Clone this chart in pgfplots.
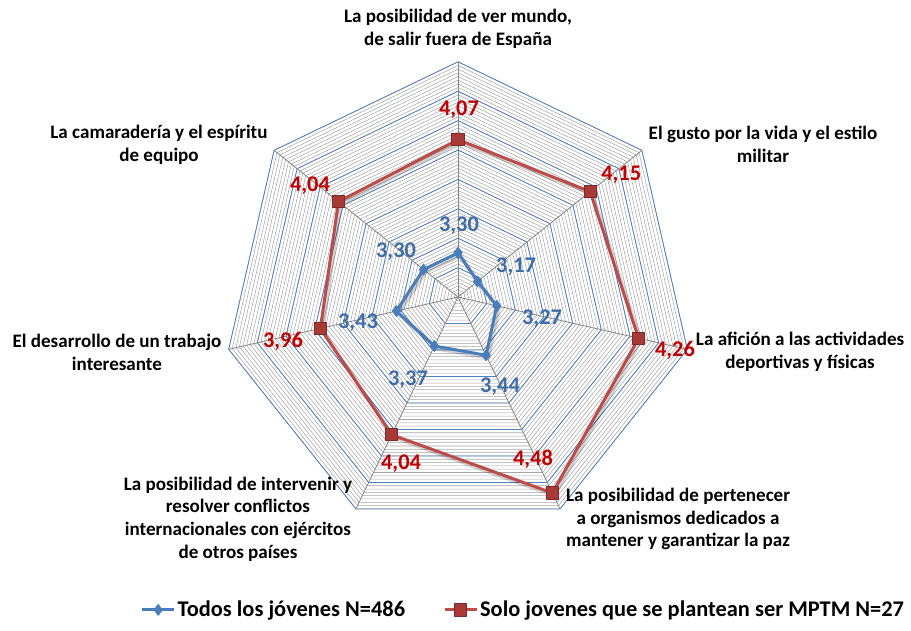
\documentclass[border=0pt]{standalone}
\usepackage{pgfplots}
\pgfplotsset{compat=1.18}
\usepackage{pgfplotstable}
\usepackage{fontspec}
\setmainfont{Carlito}
\definecolor{sblue}{HTML}{4A7EBB}
\definecolor{sred}{HTML}{BE4B48}
\definecolor{lblue}{HTML}{3E6DA8}
\definecolor{lred}{HTML}{C00000}
\definecolor{gridblue}{HTML}{4F81BD}
\definecolor{gridgray}{HTML}{A6A6A6}
\definecolor{spoke}{HTML}{868686}
\definecolor{redmark}{HTML}{A73A37}
\definecolor{redmarkd}{HTML}{7E2A28}
\newcommand\labfont{\fontsize{14.3}{17}\selectfont\bfseries}
\newcommand\valfont{\fontsize{16.8}{20}\selectfont\bfseries}
\newcommand{\hept}[2]{\draw[#2] (axis cs:0,{#1}) -- (axis cs:{(#1)*0.781831},{(#1)*0.623490}) -- (axis cs:{(#1)*0.974928},{-(#1)*0.222521}) -- (axis cs:{(#1)*0.433884},{-(#1)*0.900969}) -- (axis cs:{-(#1)*0.433884},{-(#1)*0.900969}) -- (axis cs:{-(#1)*0.974928},{-(#1)*0.222521}) -- (axis cs:{-(#1)*0.781831},{(#1)*0.623490}) -- cycle;}
\pgfplotstableread{
k all red bl rl bdx bdy rdx rdy
0 3.30 4.07 3,30 4,07 0.75 20.2 0.75 22.3
1 3.17 4.15 3,17 4,15 28.9 10.8 23.3 12.5
2 3.27 4.26 3,27 4,26 34.0 -9.9 27.3 -8.9
3 3.44 4.48 3,44 4,48 10.4 -23.8 -14.6 25.5
4 3.37 4.04 3,37 4,04 -19.8 -25.5 7.0 -21.8
5 3.43 3.96 3,43 3,96 -28.8 -8.9 -28.1 -9.5
6 3.30 4.04 3,30 4,04 -20.6 13.1 -21.4 11.8
7 3.30 4.07 {} {} 0 0 0 0
}\data
\pgfplotsset{
  bluestyle/.style={sblue, line width=2.25pt, line join=round, mark=diamond*, mark size=4.2pt,
    mark options={fill=sblue, draw=sblue, line width=0.5pt, solid}},
  redstyle/.style={sred, line width=2.25pt, line join=round, mark=square*, mark size=4.6pt,
    mark options={fill=redmark, draw=redmarkd, line width=0.6pt, solid}},
  shadowstyle/.style={black, opacity=0.18, line width=3pt, line join=round, no markers, forget plot, xshift=1.5pt, yshift=-1.8pt},
}
\begin{document}
\begin{tikzpicture}
\begin{axis}[
  x=110.25pt, y=110.25pt,
  xmin=-3.1156, xmax=3.0816, ymin=-2.2653, ymax=2.0204,
  hide axis, clip=false,
  legend columns=2,
  legend style={at={(rel axis cs:0.5745,0.032)}, anchor=center, draw=none, fill=none,
    font=\valfont, inner sep=0pt, /tikz/every even column/.append style={column sep=27pt},
    nodes={inner sep=1.5pt}},
  legend image code/.code={\draw[#1, mark repeat=2, mark phase=2] plot coordinates {(0pt,0pt)(12pt,0pt)(24pt,0pt)};},
]
\path (rel axis cs:0,0) rectangle (rel axis cs:1,1);
\pgfplotsinvokeforeach{1,...,64}{\hept{0.025*#1}{gridgray, line width=0.4pt}}
\pgfplotsinvokeforeach{1,...,8}{\hept{0.2*#1}{gridblue, line width=0.6pt}}
\draw[spoke, line width=0.6pt] (axis cs:0,0) -- (axis cs:0,1.6);
\draw[spoke, line width=0.6pt] (axis cs:0,0) -- (axis cs:{1.6*0.781831},{1.6*0.623490});
\draw[spoke, line width=0.6pt] (axis cs:0,0) -- (axis cs:{1.6*0.974928},{-1.6*0.222521});
\draw[spoke, line width=0.6pt] (axis cs:0,0) -- (axis cs:{1.6*0.433884},{-1.6*0.900969});
\draw[spoke, line width=0.6pt] (axis cs:0,0) -- (axis cs:{-1.6*0.433884},{-1.6*0.900969});
\draw[spoke, line width=0.6pt] (axis cs:0,0) -- (axis cs:{-1.6*0.974928},{-1.6*0.222521});
\draw[spoke, line width=0.6pt] (axis cs:0,0) -- (axis cs:{-1.6*0.781831},{1.6*0.623490});

\addlegendimage{bluestyle}
\addlegendentry{Todos los jóvenes N=486}
\addlegendimage{redstyle}
\addlegendentry{Solo jovenes que se plantean ser MPTM N=27}

\addplot[shadowstyle] table[x expr={(\thisrow{all}-3)*cos(90-\thisrow{k}*360/7)}, y expr={(\thisrow{all}-3)*sin(90-\thisrow{k}*360/7)}]{\data};
\addplot[shadowstyle] table[x expr={(\thisrow{red}-3)*cos(90-\thisrow{k}*360/7)}, y expr={(\thisrow{red}-3)*sin(90-\thisrow{k}*360/7)}]{\data};

\addplot[bluestyle, forget plot,
  point meta=explicit symbolic, nodes near coords,
  visualization depends on={\thisrow{bdx}\as\bdx},
  visualization depends on={\thisrow{bdy}\as\bdy},
  nodes near coords style={font=\valfont, text=lblue, anchor=center, inner sep=0pt, xshift=\bdx pt, yshift=\bdy pt}]
  table[x expr={(\thisrow{all}-3)*cos(90-\thisrow{k}*360/7)}, y expr={(\thisrow{all}-3)*sin(90-\thisrow{k}*360/7)}, meta=bl]{\data};
\addplot[redstyle, forget plot,
  point meta=explicit symbolic, nodes near coords,
  visualization depends on={\thisrow{rdx}\as\rdx},
  visualization depends on={\thisrow{rdy}\as\rdy},
  nodes near coords style={font=\valfont, text=lred, anchor=center, inner sep=0pt, xshift=\rdx pt, yshift=\rdy pt}]
  table[x expr={(\thisrow{red}-3)*cos(90-\thisrow{k}*360/7)}, y expr={(\thisrow{red}-3)*sin(90-\thisrow{k}*360/7)}, meta=rl]{\data};

\node[align=center, font=\labfont] at (axis cs:0,1.826) {La posibilidad de ver mundo,\\de salir fuera de España};
\node[align=center, font=\labfont] at (axis cs:2.075,1.037) {El gusto por la vida y el estilo\\militar};
\node[align=center, font=\labfont] at (axis cs:2.327,-0.371) {La afición a las actividades\\deportivas y físicas};
\node[align=center, font=\labfont] at (axis cs:1.497,-1.510) {La posibilidad de pertenecer\\a organismos dedicados a\\mantener y garantizar la paz};
\node[align=center, font=\labfont] at (axis cs:-1.497,-1.510) {La posibilidad de intervenir y\\resolver conflictos\\internacionales con ejércitos\\de otros países};
\node[align=center, font=\labfont] at (axis cs:-2.320,-0.378) {El desarrollo de un trabajo\\interesante};
\node[align=center, font=\labfont] at (axis cs:-2.034,1.034) {La camaradería y el espíritu\\de equipo};
\end{axis}
\end{tikzpicture}
\end{document}
